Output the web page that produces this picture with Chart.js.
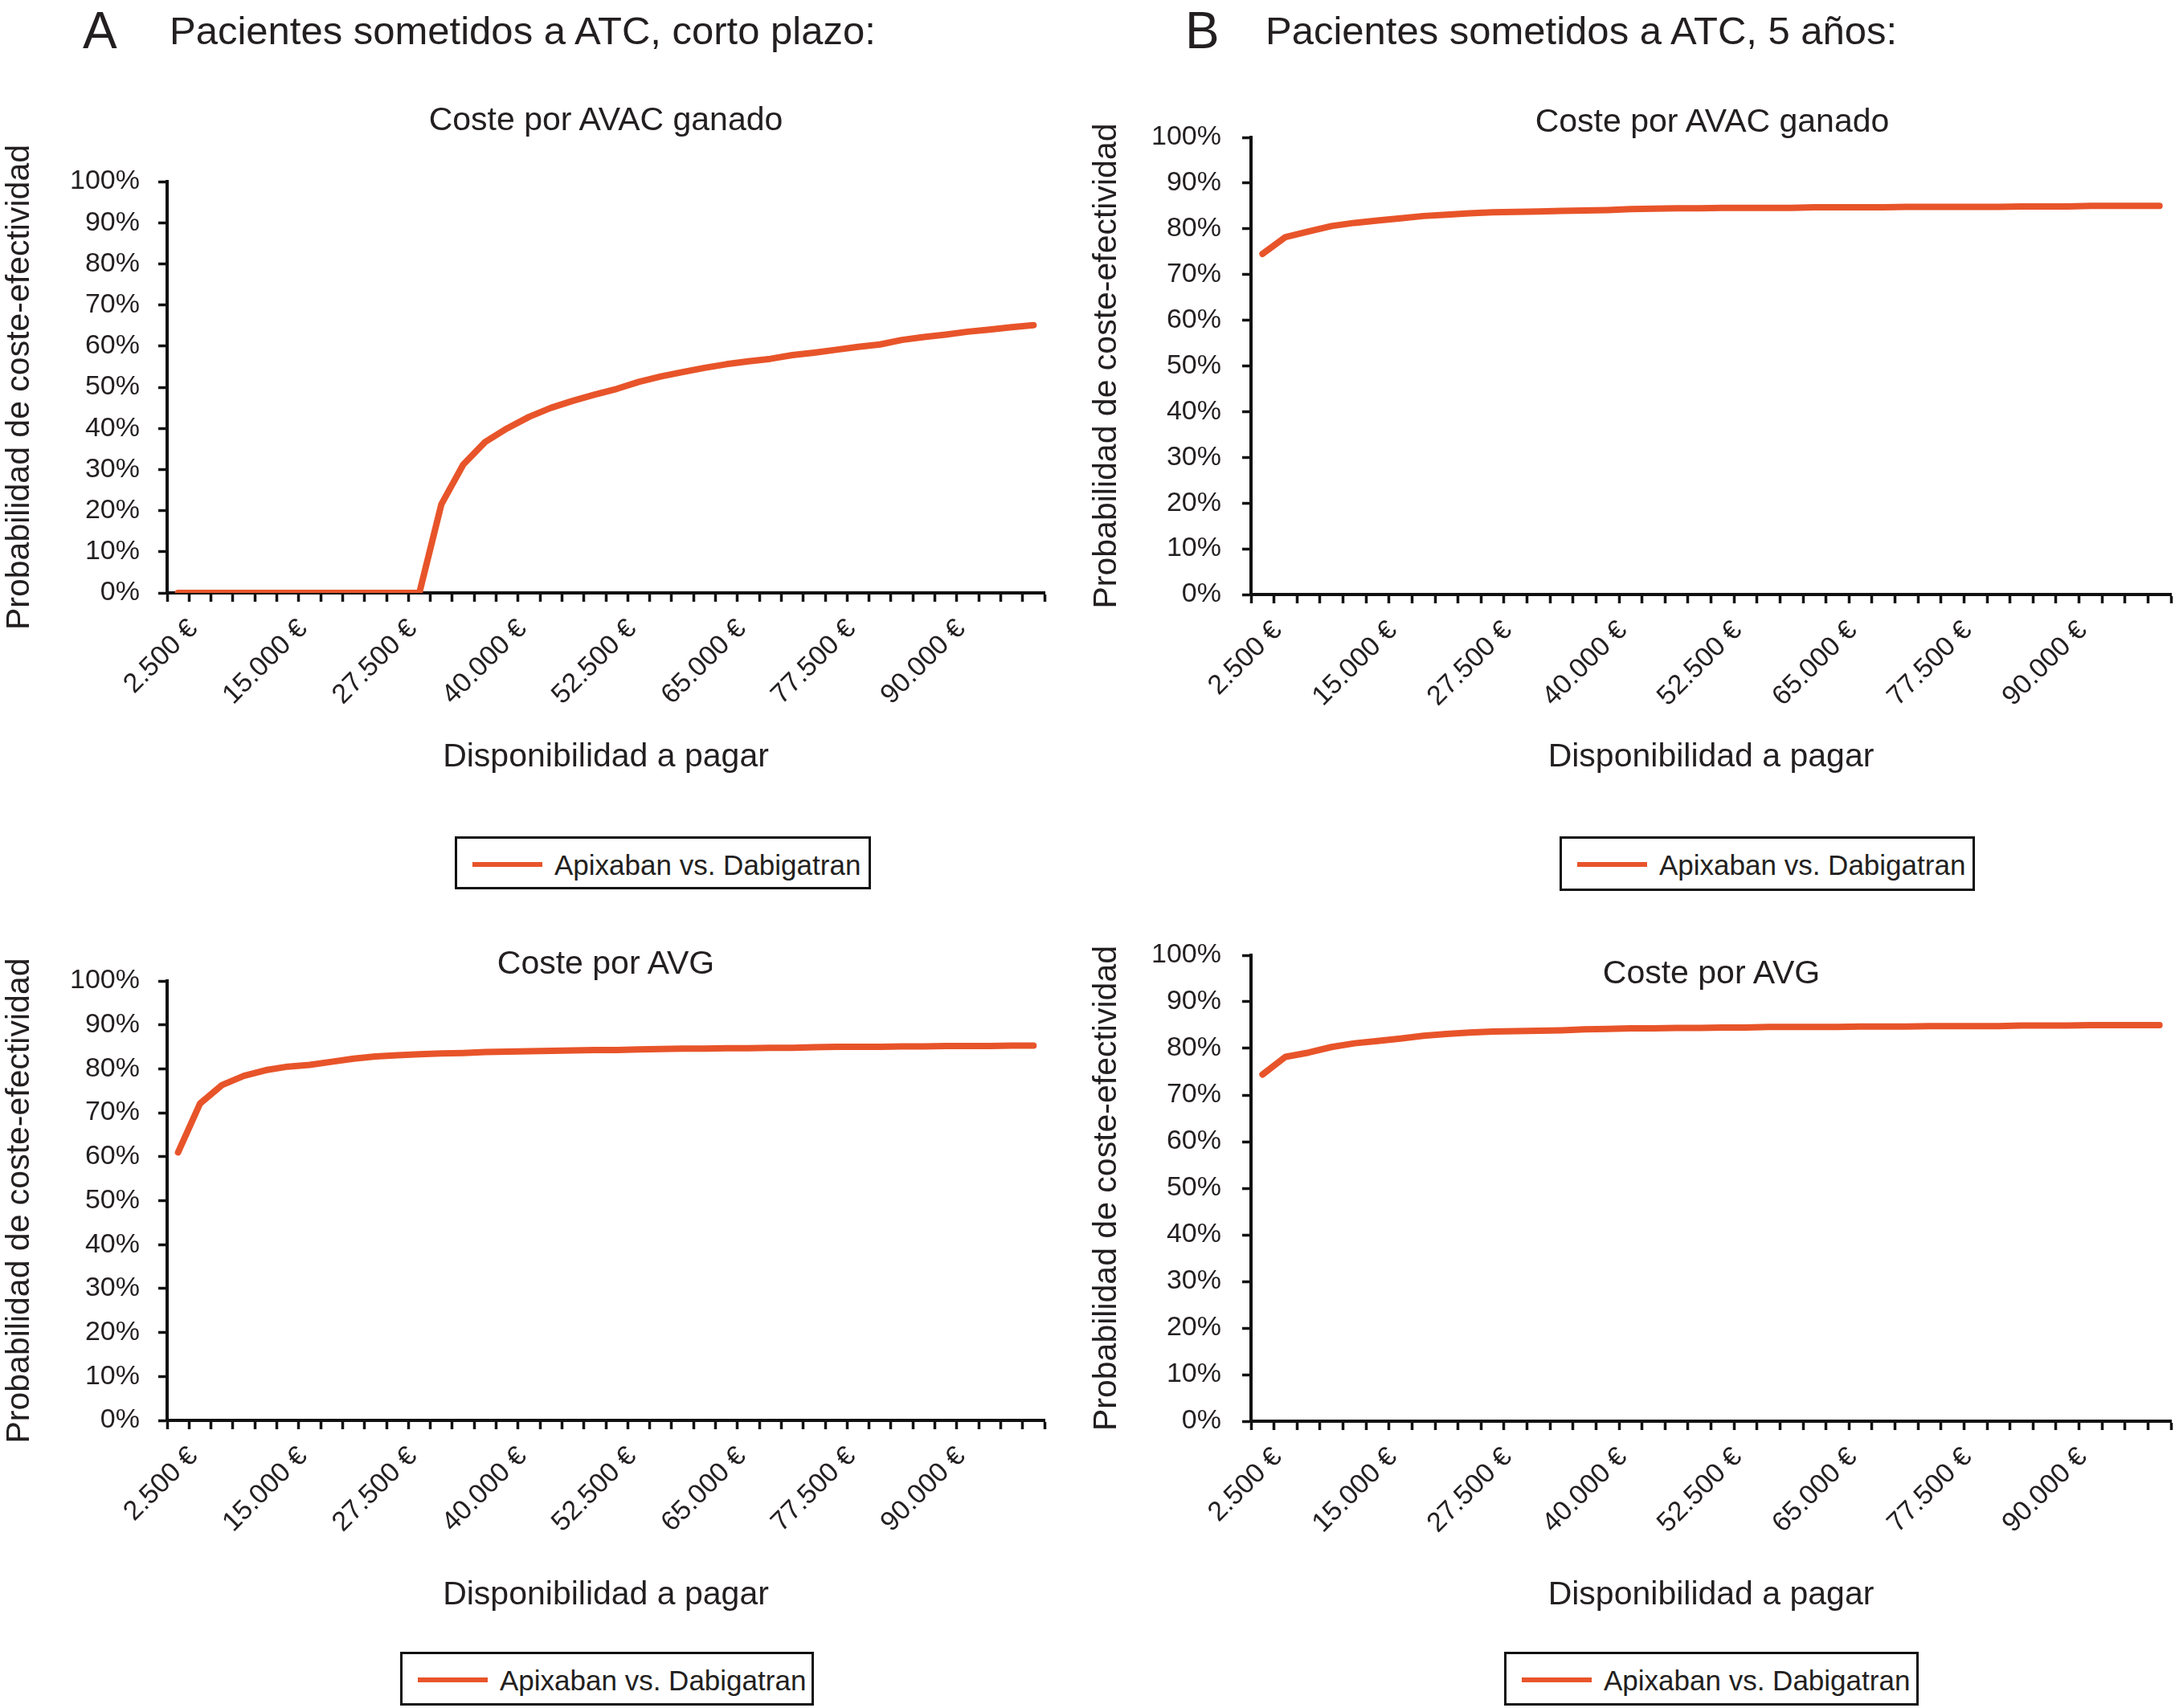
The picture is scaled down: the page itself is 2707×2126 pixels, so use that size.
<!DOCTYPE html>
<html lang="es">
<head>
<meta charset="utf-8">
<title>Pacientes sometidos a ATC</title>
<script src="https://cdn.jsdelivr.net/npm/chart.js@4.4.1/dist/chart.umd.min.js"></script>
<style>
  html, body { margin: 0; padding: 0; background: #fff; }
  body {
    width: 2707px; height: 2126px; position: relative; overflow: hidden;
    font-family: "Liberation Sans", Arial, Helvetica, sans-serif; color: #231f20;
  }
  .txt { position: absolute; white-space: nowrap; line-height: 1; z-index: 2; }
  .center { transform: translateX(-50%); }
  canvas { position: absolute; z-index: 1; }
  .legend { position: absolute; border: 3px solid #111; box-sizing: border-box; background: #fff; z-index: 2; }
  .legend .swatch { position: absolute; left: 19px; top: 29px; width: 87px; height: 6px; background: #E8542A; }
  .legend .lbl { position: absolute; left: 121px; top: 15px; font-size: 35px; line-height: 1; white-space: nowrap; }
</style>
</head>
<body>

<div class="txt" style="left:103px; top:6px; font-size:64px;">A</div>
<div class="txt" style="left:211px; top:14px; font-size:49px;">Pacientes sometidos a ATC, corto plazo:</div>
<div class="txt" style="left:1475px; top:6px; font-size:64px;">B</div>
<div class="txt" style="left:1575px; top:14px; font-size:49px;">Pacientes sometidos a ATC, 5 años:</div>

<div class="txt center" id="sub1" style="left:754px; top:128px; font-size:41px;"></div>
<div class="txt center" id="sub2" style="left:2131px; top:130px; font-size:41px;"></div>
<div class="txt center" id="sub3" style="left:754px; top:1178px; font-size:41px;"></div>
<div class="txt center" id="sub4" style="left:2130px; top:1190px; font-size:41px;"></div>

<canvas id="c1"></canvas>
<canvas id="c2"></canvas>
<canvas id="c3"></canvas>
<canvas id="c4"></canvas>

<div class="legend" id="lg1" style="left:566px; top:1041px; width:518px; height:66px;"></div>
<div class="legend" id="lg2" style="left:1941px; top:1041px; width:517px; height:68px;"></div>
<div class="legend" id="lg3" style="left:498px; top:2056px; width:515px; height:67px;"></div>
<div class="legend" id="lg4" style="left:1872px; top:2056px; width:516px; height:67px;"></div>

<script>
// disponibilidad a pagar (€ por unidad)
var wtp = [2500, 5000, 7500, 10000, 12500, 15000, 17500, 20000, 22500, 25000,
           27500, 30000, 32500, 35000, 37500, 40000, 42500, 45000, 47500, 50000,
           52500, 55000, 57500, 60000, 62500, 65000, 67500, 70000, 72500, 75000,
           77500, 80000, 82500, 85000, 87500, 90000, 92500, 95000, 97500, 100000];

// probabilidad de coste-efectividad (%)
var avacCorto = [0, 0, 0, 0, 0, 0, 0, 0, 0, 0,
                 0, 0, 21.5, 31.2, 36.7, 40.0, 42.8, 45.0, 46.7, 48.2,
                 49.6, 51.3, 52.6, 53.7, 54.7, 55.6, 56.3, 56.9, 57.8, 58.4,
                 59.1, 59.8, 60.4, 61.5, 62.2, 62.8, 63.5, 64.0, 64.6, 65.1];
var avgCorto = [61.0, 72.1, 76.3, 78.4, 79.7, 80.5, 80.9, 81.6, 82.3, 82.8,
                83.1, 83.3, 83.5, 83.6, 83.8, 83.9, 84.0, 84.1, 84.2, 84.3,
                84.3, 84.4, 84.5, 84.6, 84.6, 84.7, 84.7, 84.8, 84.8, 84.9,
                85.0, 85.0, 85.0, 85.1, 85.1, 85.2, 85.2, 85.2, 85.3, 85.3];
var avac5 = [74.5, 78.2, 79.4, 80.6, 81.3, 81.8, 82.3, 82.8, 83.1, 83.4,
             83.6, 83.7, 83.8, 83.9, 84.0, 84.1, 84.3, 84.4, 84.5, 84.5,
             84.6, 84.6, 84.6, 84.6, 84.7, 84.7, 84.7, 84.7, 84.8, 84.8,
             84.8, 84.8, 84.8, 84.9, 84.9, 84.9, 85.0, 85.0, 85.0, 85.0];
var avg5 = [74.4, 78.2, 79.1, 80.3, 81.1, 81.6, 82.1, 82.7, 83.1, 83.4,
            83.6, 83.7, 83.8, 83.9, 84.1, 84.2, 84.3, 84.3, 84.4, 84.4,
            84.5, 84.5, 84.6, 84.6, 84.6, 84.6, 84.7, 84.7, 84.7, 84.8,
            84.8, 84.8, 84.8, 84.9, 84.9, 84.9, 85.0, 85.0, 85.0, 85.0];

var yTickValues = [0, 10, 20, 30, 40, 50, 60, 70, 80, 90, 100];
var seriesName = 'Apixaban vs. Dabigatran';
var subtitles = ['Coste por AVAC ganado', 'Coste por AVAC ganado', 'Coste por AVG', 'Coste por AVG'];
var xTitle = 'Disponibilidad a pagar';
var yTitle = 'Probabilidad de coste-efectividad';

var lineColor = '#E8542A';
var inkColor = '#231f20';
var fontFamily = '"Liberation Sans", Arial, Helvetica, sans-serif';

function euros(n) {
    return String(n).replace(/\B(?=(\d{3})+(?!\d))/g, '.') + ' \u20AC';
}
var wtpLabels = wtp.map(euros);

function buildChart(id, values, g) {
    var cv = document.getElementById(id);
    cv.width = g.w;
    cv.height = g.h;
    cv.style.left = g.x + 'px';
    cv.style.top = g.y + 'px';

    return new Chart(cv, {
        type: 'line',
        data: {
            labels: wtpLabels,
            datasets: [{
                label: seriesName,
                data: values,
                borderColor: lineColor,
                backgroundColor: lineColor,
                borderWidth: 8,
                pointRadius: 0,
                tension: 0,
                fill: false,
                borderCapStyle: 'round',
                borderJoinStyle: 'round'
            }]
        },
        options: {
            responsive: false,
            animation: false,
            devicePixelRatio: 1,
            layout: { padding: { top: g.padTop, right: g.padRight, bottom: 0, left: 0 } },
            plugins: {
                legend: { display: false },
                tooltip: { enabled: false }
            },
            scales: {
                x: {
                    type: 'category',
                    offset: true,
                    grid: { offset: true, drawOnChartArea: false, drawTicks: true, tickLength: 11, tickWidth: 3.5, tickColor: '#111' },
                    border: { display: true, color: '#111', width: 4 },
                    ticks: {
                        autoSkip: false,
                        maxRotation: 45,
                        minRotation: 45,
                        padding: 14,
                        labelOffset: 19,
                        color: inkColor,
                        font: { family: fontFamily, size: 34 },
                        callback: function (v, i) { return i % 5 === 0 ? this.getLabelForValue(v) : ''; }
                    },
                    title: { display: true, text: xTitle, color: inkColor, padding: 0, font: { family: fontFamily, size: 41 } },
                    afterFit: function (s) { s.height = g.xAxisH; s.paddingLeft = 0; s.paddingRight = 0; }
                },
                y: {
                    min: 0,
                    max: 100,
                    afterBuildTicks: function (s) { s.ticks = yTickValues.map(function (v) { return { value: v }; }); },
                    grid: { drawOnChartArea: false, drawTicks: true, tickLength: 11, tickWidth: 3.5, tickColor: '#111' },
                    border: { display: true, color: '#111', width: 4 },
                    ticks: {
                        padding: g.yPad,
                        color: inkColor,
                        font: { family: fontFamily, size: 34 },
                        callback: function (v) { return v + '%'; }
                    },
                    title: { display: true, text: yTitle, color: inkColor, padding: { top: g.yTitlePad, bottom: 0 }, font: { family: fontFamily, size: 41 } },
                    afterFit: function (s) { s.width = g.yAxisW; s.paddingTop = 0; s.paddingBottom = 0; }
                }
            }
        }
    });
}

// plot boxes: left/top from canvas origin, axis sizes forced
buildChart('c1', avacCorto, { x: 0, y: 110, w: 1330, h: 857, padTop: 116, padRight: 30, yAxisW: 208, xAxisH: 229, yPad: 23, yTitlePad: 0 });
buildChart('c2', avac5, { x: 1350, y: 135, w: 1357, h: 832, padTop: 36, padRight: 5, yAxisW: 207, xAxisH: 227, yPad: 26, yTitlePad: 3 });
buildChart('c3', avgCorto, { x: 0, y: 1155, w: 1330, h: 855, padTop: 66, padRight: 30, yAxisW: 208, xAxisH: 242, yPad: 23, yTitlePad: 0 });
buildChart('c4', avg5, { x: 1350, y: 1153, w: 1357, h: 857, padTop: 36, padRight: 5, yAxisW: 207, xAxisH: 241, yPad: 26, yTitlePad: 3 });

for (var i = 0; i < 4; i++) {
    document.getElementById('sub' + (i + 1)).textContent = subtitles[i];
    document.getElementById('lg' + (i + 1)).innerHTML =
        '<span class="swatch"></span><span class="lbl">' + seriesName + '</span>';
}
</script>
</body>
</html>
